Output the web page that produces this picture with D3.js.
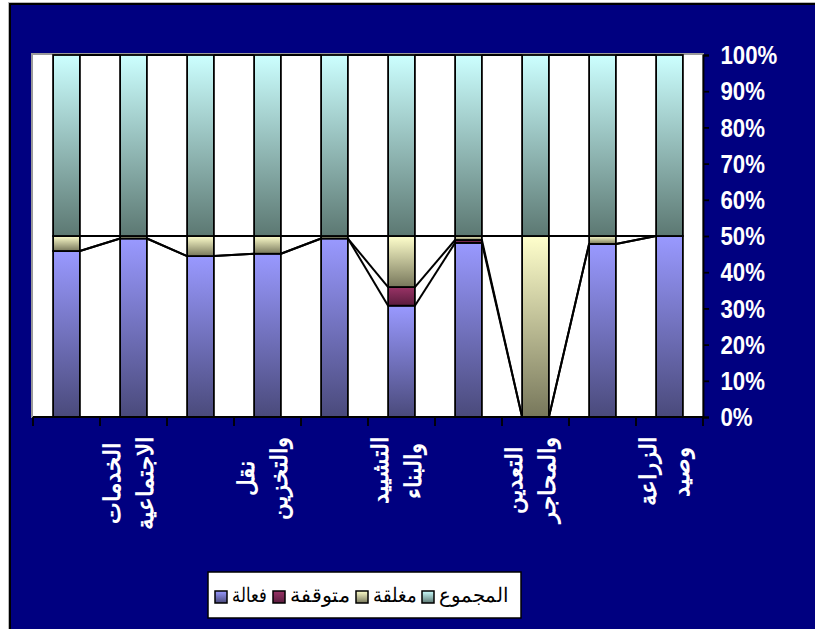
<!DOCTYPE html>
<html>
<head>
<meta charset="utf-8">
<script src="https://cdn.jsdelivr.net/npm/d3@7"></script>
<style>
  body { margin: 0; background: #ffffff; }
  svg { display: block; }
</style>
</head>
<body>
<script>
// Sectors (only every other label is printed on the axis; "|" splits a label into two lines)
const categories = ["", "الخدمات|الاجتماعية", "", "نقل|والتخزين", "", "التشييد|والبناء", "", "التعدين|والمحاجر", "", "الزراعة|وصيد"];

// Series names as shown in the legend
const seriesKeys = ["active", "stopped", "closed", "total"];
const seriesNames = ["فعالة", "متوقفة", "مغلقة", "المجموع"];

// Establishment counts per sector (shares of the sector total)
const active  = [91.7, 98.6, 88.9, 90.2, 98.6, 61.5, 96.2, 0, 95.6, 100];
const stopped = [0, 0, 0, 0, 0, 10.3, 1.6, 0, 0, 0];
const closed  = [8.3, 1.4, 11.1, 9.8, 1.4, 28.2, 2.2, 100, 4.4, 0];
const total   = [100, 100, 100, 100, 100, 100, 100, 100, 100, 100];

// Value-axis ticks
const yTickValues = [0, 0.1, 0.2, 0.3, 0.4, 0.5, 0.6, 0.7, 0.8, 0.9, 1];

const W = 815, H = 629;
const plot = { left: 33, right: 703, top: 55, bottom: 417 };

const seriesColors = {
  active:  ["#9999ff", "#4a4a7b"],
  stopped: ["#993366", "#5a1c3d"],
  closed:  ["#ffffcc", "#77775b"],
  total:   ["#ccffff", "#5c7872"]
};

const rows = categories.map((c, i) => ({
  cat: i, active: active[i], stopped: stopped[i], closed: closed[i], total: total[i]
}));

const svg = d3.select("body").append("svg")
  .attr("width", W).attr("height", H)
  .attr("viewBox", `0 0 ${W} ${H}`);

const defs = svg.append("defs");
seriesKeys.forEach(k => {
  const g = defs.append("linearGradient").attr("id", "grad-" + k)
    .attr("x1", 0).attr("y1", 0).attr("x2", 0).attr("y2", 1);
  g.append("stop").attr("offset", "0%").attr("stop-color", seriesColors[k][0]);
  g.append("stop").attr("offset", "100%").attr("stop-color", seriesColors[k][1]);
});

// Chart frame
svg.append("rect").attr("x", 8).attr("y", 2).attr("width", W).attr("height", H).attr("fill", "#b8b8b8");
svg.append("rect").attr("x", 9).attr("y", 3).attr("width", W).attr("height", H).attr("fill", "#000000");
svg.append("rect").attr("x", 11).attr("y", 5).attr("width", W).attr("height", H).attr("fill", "#000080");

// Plot area
svg.append("rect")
  .attr("x", plot.left - 1).attr("y", plot.top - 1)
  .attr("width", plot.right - plot.left + 1).attr("height", plot.bottom - plot.top + 1)
  .attr("fill", "#ffffff").attr("stroke", "#9a9a9a").attr("stroke-width", 2);

// Scales
const xCat = d3.scaleBand().domain(d3.range(categories.length)).range([plot.left, plot.right]);
const x = d3.scaleBand().domain(d3.range(categories.length)).range([plot.left, plot.right])
  .paddingInner(0.6).paddingOuter(0.3);
const y = d3.scaleLinear().domain([0, 1]).range([plot.bottom, plot.top]);
const bw = x.bandwidth();

const stacked = d3.stack().keys(seriesKeys).offset(d3.stackOffsetExpand)(rows);

// Series lines joining the segment tops of neighbouring columns
const serLines = svg.append("g").attr("stroke", "#000").attr("stroke-width", 2).attr("fill", "none");
stacked.forEach(layer => {
  for (let i = 0; i < layer.length - 1; i++) {
    serLines.append("line")
      .attr("x1", x(i) + bw).attr("y1", y(layer[i][1]))
      .attr("x2", x(i + 1)).attr("y2", y(layer[i + 1][1]));
  }
});

// Stacked columns
const barG = svg.append("g");
stacked.forEach(layer => {
  barG.append("g").selectAll("rect")
    .data(layer.filter(d => d[1] - d[0] > 0))
    .join("rect")
    .attr("x", d => x(d.data.cat))
    .attr("y", d => y(d[1]))
    .attr("width", bw)
    .attr("height", d => y(d[0]) - y(d[1]))
    .attr("fill", `url(#grad-${layer.key})`)
    .attr("stroke", "#000").attr("stroke-width", 1.8);
});

// Category axis
const xAxisG = svg.append("g").attr("stroke", "#000").attr("stroke-width", 1.8);
xAxisG.append("line").attr("x1", plot.left).attr("x2", plot.right)
  .attr("y1", plot.bottom).attr("y2", plot.bottom);
const tickXs = xCat.domain().map(i => xCat(i)).concat([plot.right]);
tickXs.forEach(tx => {
  xAxisG.append("line").attr("x1", tx).attr("x2", tx)
    .attr("y1", plot.bottom).attr("y2", plot.bottom + 9);
});

// Value axis on the right
const yAxis = d3.axisRight(y).tickValues(yTickValues).tickSize(6).tickFormat("");
const yAxisG = svg.append("g").attr("transform", `translate(${plot.right},0)`).call(yAxis);
yAxisG.select(".domain").attr("stroke", "#000").attr("stroke-width", 1.8);
yAxisG.selectAll(".tick line").attr("stroke", "#000").attr("stroke-width", 1.8);

const fmt = d3.format(".0%");
svg.append("g").selectAll("text")
  .data(yTickValues)
  .join("text")
  .attr("transform", d => `translate(720.5,${y(d)}) scale(0.855,1)`)
  .attr("dominant-baseline", "central")
  .attr("fill", "#ffffff")
  .attr("font-family", "Arial, 'Liberation Sans', sans-serif")
  .attr("font-weight", "bold")
  .attr("font-size", 26)
  .text(d => fmt(d));

// Category labels, rotated and top-aligned under the axis
const labG = svg.append("g")
  .attr("fill", "#ffffff")
  .attr("font-family", "'Times New Roman', 'Liberation Serif', serif")
  .attr("font-weight", "bold")
  .attr("font-size", 23);
const labelTop = 437;
const lineOffsets = [-21, 12];
categories.forEach((c, i) => {
  if (!c) return;
  const lines = c.split("|");
  const cx = x(i) + bw / 2;
  const texts = lines.map((ln, j) => labG.append("text")
    .attr("text-anchor", "middle")
    .attr("dominant-baseline", "central")
    .text(ln));
  const maxLen = d3.max(texts, t => t.node().getComputedTextLength());
  texts.forEach((t, j) => {
    t.attr("transform", `translate(${cx + lineOffsets[j]},${labelTop + maxLen / 2}) rotate(-90)`);
  });
});

// Legend
const legG = svg.append("g");
legG.append("rect").attr("x", 208).attr("y", 572).attr("width", 313).attr("height", 46)
  .attr("fill", "#ffffff").attr("stroke", "#000").attr("stroke-width", 1.5);
const legendSwatchX = [215, 273, 356, 422];
const legendTextW = [35, 60, 44, 70];
seriesKeys.forEach((k, i) => {
  legG.append("rect").attr("x", legendSwatchX[i]).attr("y", 591).attr("width", 12).attr("height", 12)
    .attr("fill", `url(#grad-${k})`).attr("stroke", "#000").attr("stroke-width", 1.5);
  legG.append("text")
    .attr("x", legendSwatchX[i] + 17 + legendTextW[i] / 2).attr("y", 602)
    .attr("text-anchor", "middle")
    .attr("font-family", "'Times New Roman', 'Liberation Serif', serif")
    .attr("font-size", 20)
    .attr("fill", "#000")
    .attr("textLength", legendTextW[i])
    .attr("lengthAdjust", "spacingAndGlyphs")
    .text(seriesNames[i]);
});
</script>
</body>
</html>
